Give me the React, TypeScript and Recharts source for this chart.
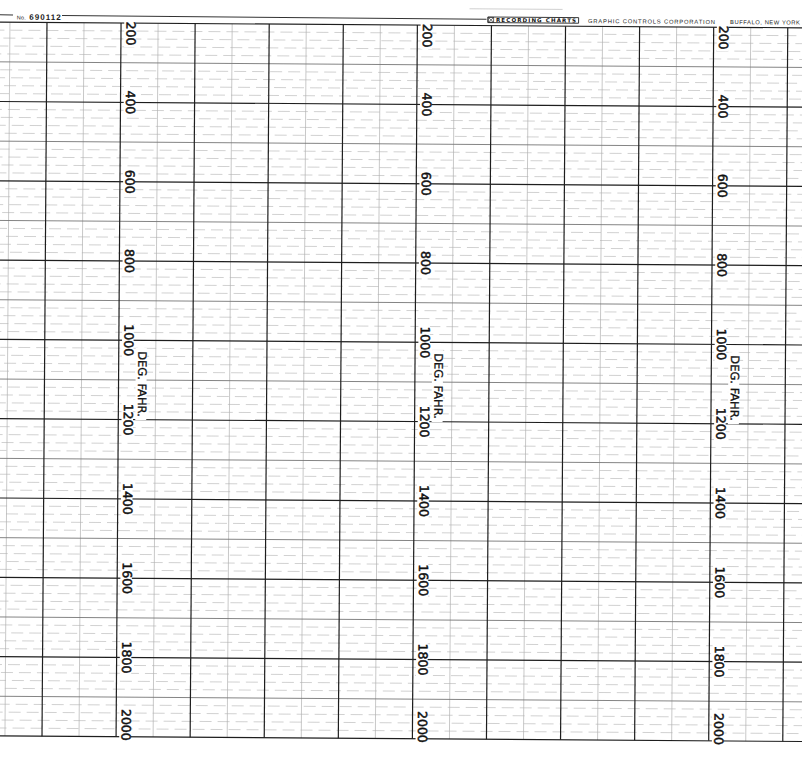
import React from 'react';
import { ComposedChart, XAxis, YAxis, ReferenceLine, ReferenceDot } from 'recharts';

// Temperature scale (deg. F)
const degMajor = [200, 400, 600, 800, 1000, 1200, 1400, 1600, 1800, 2000];
const degLabels = ['200', '400', '600', '800', '1000', '1200', '1400', '1600', '1800', '2000'];
const degHalf = [300, 500, 700, 900, 1100, 1300, 1500, 1700, 1900];
const degMinorStep = 20;
const degMinor: number[] = [];
for (let v = 200 + degMinorStep; v < 2000; v += degMinorStep) {
  if (v % 100 !== 0) degMinor.push(v);
}

// Time divisions (columns)
const timeMajor = [0, 2, 4, 6, 8, 10, 12, 14, 16, 18, 20];
const timeMinor = [-1, 1, 3, 5, 7, 9, 11, 13, 15, 17, 19];
const scaleColumns = [2, 10, 18];

const unitTitle = 'DEG. FAHR.';
const unitTitleAt = 1100;

const chartNoPrefix = 'No.';
const chartNo = '690112';
const brand = 'RECORDING CHARTS';
const maker = 'GRAPHIC CONTROLS CORPORATION';
const city = 'BUFFALO, NEW YORK';

const data = timeMajor.map((c) => ({ col: c }));

const W = 822;
const H = 758;
const COL_PX = 37.04;
const FIRST_DARK = 54.5; // chart-x of column 0
const xDomain: [number, number] = [-FIRST_DARK / COL_PX, (W - FIRST_DARK) / COL_PX];

const tickFont = '"DejaVu Sans", Verdana, sans-serif';
const TICK_SIZE = 12.5;
const DIGIT_W = 0.636 * TICK_SIZE;

function makeTick(label: string, idx: number, count: number) {
  const anchor = idx === 0 ? 'start' : idx === count - 1 ? 'end' : 'middle';
  const shift = idx === 0 ? -1.5 : idx === count - 1 ? 4 : 0;
  const len = label.length * DIGIT_W;
  return (props: any) => {
    const x = props.cx + 5.5;
    const y = props.cy + shift;
    const y0 = anchor === 'start' ? y : anchor === 'end' ? y - len : y - len / 2;
    return (
      <g>
        <rect x={props.cx + 3.2} y={y0 - 1.5} width={11.5} height={len + 3} fill="#fff" />
        <text
          x={x}
          y={y}
          transform={`rotate(90 ${x} ${y})`}
          textAnchor={anchor}
          fontFamily={tickFont}
          fontSize={TICK_SIZE}
          fill="#111"
          stroke="#111"
          strokeWidth={0.5}
        >
          {label}
        </text>
      </g>
    );
  };
}

const titleShape = (props: any) => {
  const x = props.cx + 19.5;
  const y = props.cy + 4;
  return (
    <g>
      <rect x={props.cx + 17} y={y - 36} width={11} height={72} fill="#fff" />
      <text
        x={x}
        y={y}
        transform={`rotate(90 ${x} ${y})`}
        textAnchor="middle"
        fontFamily={tickFont}
        fontSize={11.5}
        fill="#111"
        stroke="#111"
        strokeWidth={0.3}
      >
        {unitTitle}
      </text>
    </g>
  );
};

const Header = () => (
  <svg
    width={802}
    height={30}
    style={{ position: 'absolute', left: 0, top: 0, overflow: 'visible' }}
  >
    <line x1={-10} y1={17.6} x2={10.5} y2={17.7} stroke="#333" strokeWidth={1} />
    <text
      x={14.2}
      y={22.2}
      fontFamily='"Liberation Sans", Arial, sans-serif'
      fontSize={5.5}
      textLength={9}
      lengthAdjust="spacing"
      fill="#222"
    >
      {chartNoPrefix}
    </text>
    <text
      x={26.8}
      y={22.4}
      fontFamily='"Liberation Sans", Arial, sans-serif'
      fontSize={8}
      fontWeight="bold"
      textLength={31.4}
      lengthAdjust="spacing"
      fill="#222"
    >
      {chartNo}
    </text>
    <line x1={59.5} y1={17.9} x2={484} y2={18.6} stroke="#333" strokeWidth={1} />
    <line x1={467} y1={8.3} x2={560} y2={8.3} stroke="#c4c4c4" strokeWidth={0.8} />
    <rect x={485.3} y={16.4} width={90.8} height={5.6} fill="none" stroke="#222" strokeWidth={0.9} />
    <rect x={485.8} y={16.8} width={5.3} height={4.8} fill="none" stroke="#222" strokeWidth={0.7} />
    <line x1={486} y1={17} x2={491} y2={21.5} stroke="#222" strokeWidth={0.6} />
    <line x1={491} y1={17} x2={486} y2={21.5} stroke="#222" strokeWidth={0.6} />
    <text
      x={493.5}
      y={21.3}
      fontFamily='"DejaVu Sans", Verdana, sans-serif'
      fontSize={5.5}
      fontWeight="bold"
      textLength={80}
      lengthAdjust="spacing"
      fill="#111"
    >
      {brand}
    </text>
    <text
      x={585.5}
      y={21.8}
      fontFamily='"Liberation Sans", Arial, sans-serif'
      fontSize={5.8}
      textLength={127}
      lengthAdjust="spacing"
      fill="#222"
    >
      {maker}
    </text>
    <text
      x={727.5}
      y={21.8}
      fontFamily='"Liberation Sans", Arial, sans-serif'
      fontSize={5.8}
      textLength={70}
      lengthAdjust="spacing"
      fill="#222"
    >
      {city}
    </text>
  </svg>
);

export default function App() {
  return (
    <div
      style={{
        position: 'absolute',
        left: 0,
        top: 0,
        width: 802,
        height: 758,
        overflow: 'hidden',
        background: '#fff',
      }}
    >
      <div
        style={{
          position: 'absolute',
          left: 0,
          top: 0,
          width: 802,
          height: 758,
          transform: 'rotate(0.4deg)',
          transformOrigin: '401px 379px',
        }}
      >
        <div style={{ position: 'absolute', left: -10, top: 0 }}>
          <ComposedChart
            width={W}
            height={H}
            data={data}
            margin={{ top: 25, right: 0, bottom: 19.3, left: 0 }}
          >
            <XAxis dataKey="col" type="number" domain={xDomain} allowDataOverflow hide />
            <YAxis type="number" domain={[200, 2000]} reversed allowDataOverflow hide />

            {degMinor.map((v, i) => (
              <ReferenceLine
                key={`mi-${v}`}
                y={v}
                stroke="#bdbdbd"
                strokeWidth={0.7}
                strokeDasharray="12 6"
                strokeDashoffset={(i * 7) % 18}
                ifOverflow="visible"
              />
            ))}
            {timeMinor.map((c) => (
              <ReferenceLine key={`tm-${c}`} x={c} stroke="#b0b0b0" strokeWidth={0.7} ifOverflow="visible" />
            ))}
            {degHalf.map((v) => (
              <ReferenceLine key={`h-${v}`} y={v} stroke="#777" strokeWidth={0.9} ifOverflow="visible" />
            ))}
            {degMajor.map((v) => (
              <ReferenceLine key={`ma-${v}`} y={v} stroke="#1e1e1e" strokeWidth={1.2} ifOverflow="visible" />
            ))}
            {timeMajor.map((c) => (
              <ReferenceLine key={`tM-${c}`} x={c} stroke="#1e1e1e" strokeWidth={1.2} ifOverflow="visible" />
            ))}

            {scaleColumns.map((c) =>
              degMajor.map((v, i) => (
                <ReferenceDot
                  key={`lb-${c}-${v}`}
                  x={c}
                  y={v}
                  r={0}
                  ifOverflow="visible"
                  shape={makeTick(degLabels[i], i, degMajor.length)}
                />
              ))
            )}
            {scaleColumns.map((c) => (
              <ReferenceDot
                key={`tt-${c}`}
                x={c}
                y={unitTitleAt}
                r={0}
                ifOverflow="visible"
                shape={titleShape}
              />
            ))}
          </ComposedChart>
        </div>
        <Header />
      </div>
    </div>
  );
}
